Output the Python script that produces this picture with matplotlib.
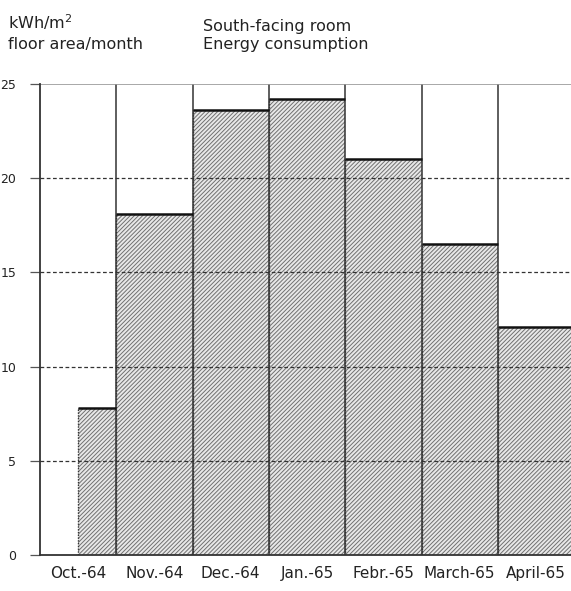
import numpy as np
import matplotlib
matplotlib.use("Agg")
import matplotlib.pyplot as plt

months = ["Oct.-64", "Nov.-64", "Dec.-64", "Jan.-65", "Febr.-65", "March-65", "April-65"]
energy = [7.8, 18.1, 23.6, 24.2, 21.0, 16.5, 12.1]
# part of the month covered by the measurement (October started mid-month)
covered = [0.5, 1, 1, 1, 1, 1, 1]
yticks = [0, 5, 10, 15, 20, 25]

plt.rcParams["hatch.linewidth"] = 0.7

fig = plt.figure(figsize=(5.71, 5.91), dpi=100)
ax = fig.add_axes([40 / 571, 1 - 555 / 591, 531 / 571, 471 / 591])

x = np.arange(len(months))
left = x + 0.5 - np.array(covered)
ax.bar(left, energy, width=covered, align="edge", color="#e8e8e8",
       edgecolor="#707070", linewidth=0, hatch="////////", zorder=1)

# bar outlines: solid top, dotted sides
ax.hlines(energy, left, x + 0.5, color="#111111", lw=1.8, zorder=4)
ax.vlines(left, 0, energy, color="#333333", lw=1.0, ls=(0, (1, 1)), zorder=3)

# grid
for b in np.arange(len(months) - 1) + 0.5:
    ax.axvline(b, color="#333333", lw=1.1, zorder=2)
for v in yticks[1:-1]:
    ax.axhline(v, color="#333333", lw=0.9, ls=(0, (3, 2)), zorder=2)
ax.axhline(25, color="#999999", lw=1.2, zorder=2)

ax.set_xlim(-0.5, -0.5 + 531 / 76.3)
ax.set_ylim(0, 25)
ax.set_xticks(x)
ax.set_xticklabels(months, fontsize=11, color="#222222")
ax.set_yticks(yticks)
ax.set_yticklabels([str(t) for t in yticks], fontsize=9, color="#222222")
ax.tick_params(axis="x", length=0, pad=8)
ax.tick_params(axis="y", length=7, width=0.9, color="#555555", pad=10)

for s in ["top", "right"]:
    ax.spines[s].set_visible(False)
ax.spines["left"].set_color("#333333")
ax.spines["left"].set_linewidth(1.3)
ax.spines["bottom"].set_color("#333333")
ax.spines["bottom"].set_linewidth(1.3)

hdr = dict(fontsize=11.5, color="#222222", va="center")
fig.text(8 / 571, 1 - 22 / 591, "kWh/m$^2$", **hdr)
fig.text(8 / 571, 1 - 45 / 591, "floor area/month", **hdr)
fig.text(203 / 571, 1 - 27 / 591, "South-facing room", **hdr)
fig.text(203 / 571, 1 - 45 / 591, "Energy consumption", **hdr)

fig.savefig("out.png", dpi=100)
